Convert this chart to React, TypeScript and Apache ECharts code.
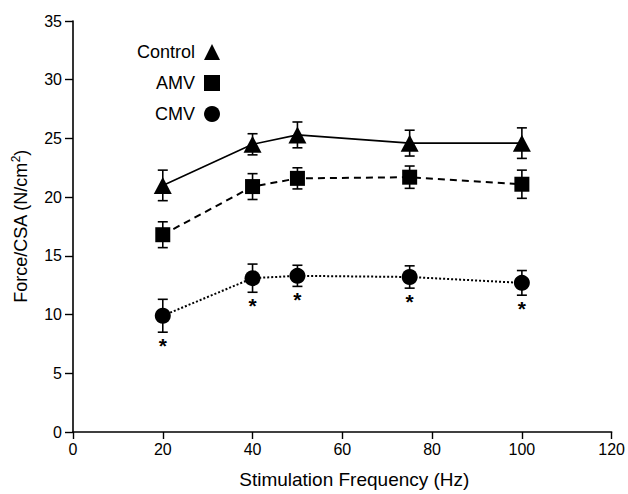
import React, { useEffect, useRef } from 'react';
import * as echarts from 'echarts';

const frequencies = [20, 40, 50, 75, 100];
const controlMean = [21.0, 24.5, 25.3, 24.6, 24.6];
const controlSE = [1.3, 0.9, 1.1, 1.1, 1.3];
const amvMean = [16.8, 20.9, 21.6, 21.7, 21.1];
const amvSE = [1.1, 1.1, 0.9, 0.95, 1.2];
const cmvMean = [9.9, 13.1, 13.3, 13.2, 12.7];
const cmvSE = [1.4, 1.2, 0.9, 0.95, 1.05];
const cmvSignificant = [true, true, true, true, true];

const FONT = '"Liberation Sans", Arial, Helvetica, sans-serif';

function errorSeries(name: string, means: number[], ses: number[]) {
  return {
    type: 'custom',
    name: name + ' SE',
    silent: true,
    z: 1,
    data: frequencies.map((f, i) => [f, means[i] - ses[i], means[i] + ses[i]]),
    renderItem: (params: any, api: any) => {
      const lo = api.coord([api.value(0), api.value(1)]);
      const hi = api.coord([api.value(0), api.value(2)]);
      const w = 5;
      const style = { stroke: '#000', lineWidth: 1.6 };
      return {
        type: 'group',
        children: [
          { type: 'line', shape: { x1: lo[0], y1: lo[1], x2: hi[0], y2: hi[1] }, style },
          { type: 'line', shape: { x1: lo[0] - w, y1: lo[1], x2: lo[0] + w, y2: lo[1] }, style },
          { type: 'line', shape: { x1: hi[0] - w, y1: hi[1], x2: hi[0] + w, y2: hi[1] }, style },
        ],
      };
    },
  };
}

export default function App() {
  const ref = useRef<HTMLDivElement>(null);
  useEffect(() => {
    if (!ref.current) return;
    const chart = echarts.init(ref.current, undefined, { renderer: 'svg' });
    const asteriskData = frequencies
      .map((f, i) => (cmvSignificant[i] ? [f, cmvMean[i] - cmvSE[i]] : null))
      .filter((d) => d !== null);
    chart.setOption({
      animation: false,
      backgroundColor: '#fff',
      textStyle: { fontFamily: FONT },
      grid: { left: 73, right: 16, top: 21, bottom: 52, containLabel: false },
      legend: {
        orient: 'vertical',
        align: 'right',
        left: 132,
        top: 38,
        itemWidth: 16,
        itemHeight: 16,
        itemGap: 13,
        selectedMode: false,
        data: [
          { name: 'Control', icon: 'triangle' },
          { name: 'AMV', icon: 'rect' },
          { name: 'CMV', icon: 'circle' },
        ],
        itemStyle: { color: '#000', borderWidth: 0 },
        textStyle: { fontSize: 18, color: '#000', fontFamily: FONT, padding: [0, 4, 0, 0] },
      },
      xAxis: {
        type: 'value',
        min: 0,
        max: 120,
        interval: 20,
        name: 'Stimulation Frequency (Hz)',
        nameLocation: 'middle',
        nameGap: 38,
        nameTextStyle: { fontSize: 19, color: '#000', fontFamily: FONT, padding: [0, 0, 0, 24] },
        axisLine: { onZero: false, lineStyle: { color: '#000', width: 1.6 } },
        axisTick: { length: 7, lineStyle: { color: '#000', width: 1.4 } },
        axisLabel: { fontSize: 16, color: '#000', margin: 9, fontFamily: FONT },
        splitLine: { show: false },
      },
      yAxis: {
        type: 'value',
        min: 0,
        max: 35,
        interval: 5,
        name: 'Force/CSA (N/cm{sup|2})',
        nameLocation: 'middle',
        nameGap: 41,
        nameRotate: 90,
        nameTextStyle: {
          fontSize: 18,
          color: '#000',
          fontFamily: FONT,
          rich: {
            sup: { fontSize: 12, color: '#000', fontFamily: FONT, padding: [0, 0, 10, 0] },
          },
        },
        axisLine: { show: true, onZero: false, lineStyle: { color: '#000', width: 1.6 } },
        axisTick: { show: true, length: 8, lineStyle: { color: '#000', width: 1.4 } },
        axisLabel: { fontSize: 16, color: '#000', margin: 11, fontFamily: FONT },
        splitLine: { show: false },
      },
      series: [
        errorSeries('Control', controlMean, controlSE),
        errorSeries('AMV', amvMean, amvSE),
        errorSeries('CMV', cmvMean, cmvSE),
        {
          type: 'line',
          name: 'Control',
          data: frequencies.map((f, i) => [f, controlMean[i]]),
          symbol: 'triangle',
          symbolSize: [18, 17],
          itemStyle: { color: '#000' },
          lineStyle: { color: '#000', width: 1.6, type: 'solid' },
          z: 3,
        },
        {
          type: 'line',
          name: 'AMV',
          data: frequencies.map((f, i) => [f, amvMean[i]]),
          symbol: 'rect',
          symbolSize: 15,
          itemStyle: { color: '#000' },
          lineStyle: { color: '#000', width: 2, type: [7, 5] },
          z: 3,
        },
        {
          type: 'line',
          name: 'CMV',
          data: frequencies.map((f, i) => [f, cmvMean[i]]),
          symbol: 'circle',
          symbolSize: 16,
          itemStyle: { color: '#000' },
          lineStyle: { color: '#000', width: 2, type: [2, 2] },
          z: 3,
        },
        {
          type: 'custom',
          name: 'significance',
          silent: true,
          data: asteriskData,
          renderItem: (params: any, api: any) => {
            const p = api.coord([api.value(0), api.value(1)]);
            return {
              type: 'text',
              x: p[0],
              y: p[1] + 3,
              style: {
                text: '*',
                fontSize: 21,
                fontWeight: 'bold',
                fontFamily: FONT,
                fill: '#000',
                align: 'center',
                verticalAlign: 'top',
              },
            };
          },
        },
      ],
    });
    return () => chart.dispose();
  }, []);
  return (
    <div
      ref={ref}
      style={{ position: 'absolute', left: 0, top: 0, width: 628, height: 494, background: '#fff' }}
    />
  );
}
